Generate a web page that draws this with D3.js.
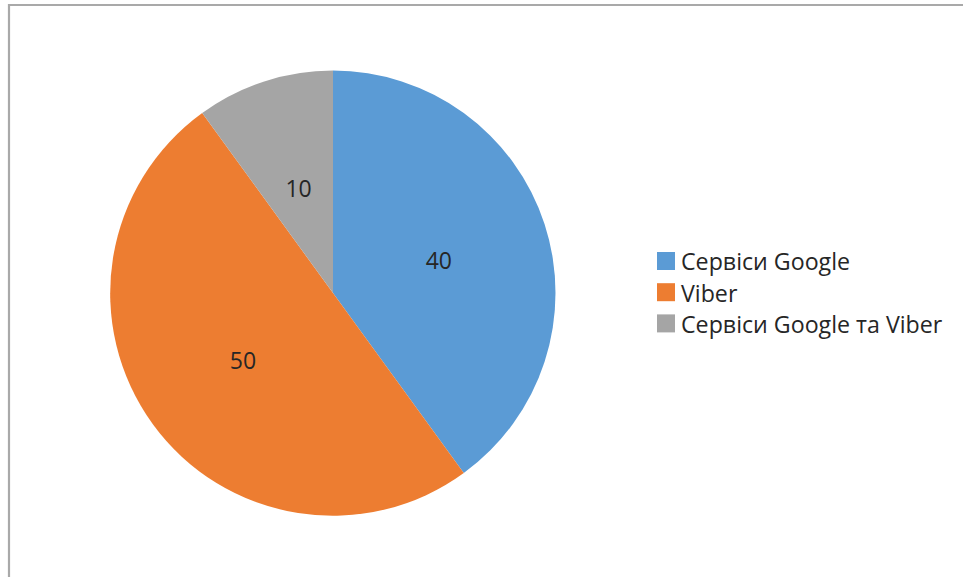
<!DOCTYPE html>
<html><head><meta charset="utf-8">
<script src="https://cdn.jsdelivr.net/npm/d3@7"></script>
<style>html,body{margin:0;padding:0;background:#fff;overflow:hidden}</style>
</head><body>
<svg id="c" width="963" height="577"></svg>
<script>
const categories = ["Сервіси Google", "Viber", "Сервіси Google та Viber"];
const values = [40, 50, 10];
const colors = ["#5B9BD5", "#ED7D31", "#A5A5A5"];

const svg = d3.select("#c");
const font = "'Open Sans', 'Noto Sans', sans-serif";

// frame
svg.append("path").attr("d", "M9,600 L9,5 L970,5")
  .attr("fill", "none").attr("stroke", "#a9a9a9").attr("stroke-width", 2.2);

const cx = 333, cy = 293, r = 222.5;
const pie = d3.pie().sort(null).value(d => d)(values);
const arc = d3.arc().innerRadius(0).outerRadius(r);
const labelArc = d3.arc().innerRadius(0).outerRadius(r);

const g = svg.append("g").attr("transform", `translate(${cx},${cy})`);
g.selectAll("path.s").data(pie).enter().append("path")
  .attr("class", "s").attr("d", arc).attr("fill", (d, i) => colors[i]);

g.selectAll("text.l").data(pie).enter().append("text")
  .attr("class", "l")
  .attr("transform", d => `translate(${labelArc.centroid(d)})`)
  .attr("text-anchor", "middle").attr("dy", "0.44em")
  .attr("font-family", font).attr("font-size", 23).attr("fill", "#262626")
  .text(d => d.data);

const lg = svg.append("g").attr("transform", "translate(657,252)");
const rows = lg.selectAll("g").data(categories).enter().append("g")
  .attr("transform", (d, i) => `translate(0,${i * 31.2})`);
rows.append("rect").attr("width", 18).attr("height", 18).attr("fill", (d, i) => colors[i]);
rows.append("text").attr("x", 24).attr("y", 9.5).attr("dy", "0.38em")
  .attr("font-family", font).attr("font-size", 23.2).attr("fill", "#262626")
  .text(d => d);
</script>
</body></html>
